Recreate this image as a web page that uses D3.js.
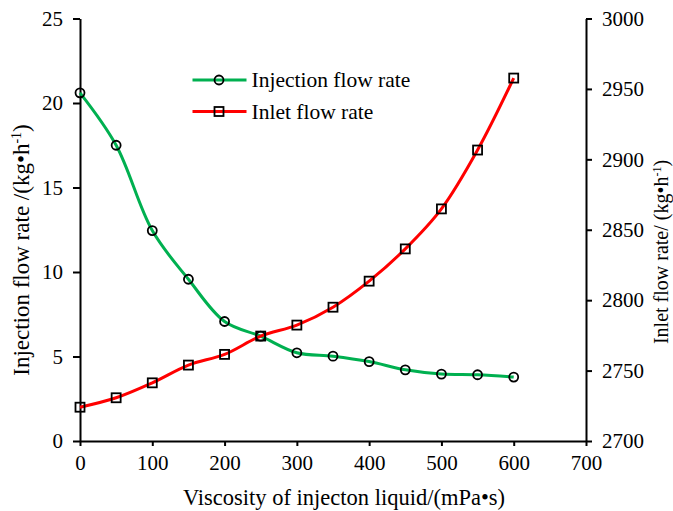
<!DOCTYPE html>
<html><head><meta charset="utf-8">
<script src="https://cdn.jsdelivr.net/npm/d3@7"></script>
<style>body{margin:0;background:#fff}text{font-family:"Liberation Serif","Times New Roman",serif;fill:#000}</style>
</head><body><svg id="c" width="673" height="511"></svg>
<script>
const viscosity = [0,50,100,150,200,250,300,350,400,450,500,550,600];
const injectionFlow = [20.6,17.5,12.45,9.57,7.07,6.2,5.22,5.02,4.7,4.21,3.96,3.92,3.78];
const inletFlow = [2724,2730.7,2741.3,2753.9,2761.5,2774.5,2782.3,2795,2813.5,2836.4,2864.8,2906.6,2957.7];
const xTicks = [0,100,200,300,400,500,600,700];
const yLeftTicks = [0,5,10,15,20,25];
const yRightTicks = [2700,2750,2800,2850,2900,2950,3000];

const svg = d3.select("#c");
const L=80, R=586, T=18.5, B=441;
const x = d3.scaleLinear().domain([0,700]).range([L,R]);
const yL = d3.scaleLinear().domain([0,25]).range([B,T]);
const yR = d3.scaleLinear().domain([2700,3000]).range([B,T]);

function styleAxis(g){
  g.selectAll("path,line").attr("stroke","#000").attr("stroke-width",2);
  g.selectAll("text").style("font-size","21px").style("font-family",'"Liberation Serif",serif');
}
svg.append("g").attr("transform",`translate(0,${B})`)
  .call(d3.axisBottom(x).tickValues(xTicks).tickSize(5).tickSizeOuter(0).tickPadding(9)).call(styleAxis);
svg.append("g").attr("transform",`translate(${L},0)`)
  .call(d3.axisLeft(yL).tickValues(yLeftTicks).tickSize(7).tickSizeOuter(0).tickPadding(10)).call(styleAxis);
svg.append("g").attr("transform",`translate(${R},0)`)
  .call(d3.axisRight(yR).tickValues(yRightTicks).tickFormat(d3.format("d")).tickSize(6).tickSizeOuter(0).tickPadding(10)).call(styleAxis);

const curve = d3.curveCatmullRom;
const lineL = d3.line().x((d,i)=>x(viscosity[i])).y(d=>yL(d)).curve(curve);
const lineR = d3.line().x((d,i)=>x(viscosity[i])).y(d=>yR(d)).curve(curve);
svg.append("path").datum(injectionFlow).attr("d",lineL).attr("fill","none").attr("stroke","#00B050").attr("stroke-width",3);
svg.append("path").datum(inletFlow).attr("d",lineR).attr("fill","none").attr("stroke","#FF0000").attr("stroke-width",3);
svg.selectAll(".mc").data(injectionFlow).enter().append("circle")
  .attr("cx",(d,i)=>x(viscosity[i])).attr("cy",d=>yL(d)).attr("r",4.5)
  .attr("fill","none").attr("stroke","#000").attr("stroke-width",1.8);
svg.selectAll(".ms").data(inletFlow).enter().append("rect")
  .attr("x",(d,i)=>x(viscosity[i])-4.5).attr("y",d=>yR(d)-4.5).attr("width",9).attr("height",9)
  .attr("fill","none").attr("stroke","#000").attr("stroke-width",1.8);

// legend
const leg = svg.append("g");
[[80,"#00B050","c","Injection flow rate"],[111.5,"#FF0000","s","Inlet flow rate"]].forEach(([yy,col,m,t])=>{
  leg.append("line").attr("x1",192.5).attr("x2",246.5).attr("y1",yy).attr("y2",yy).attr("stroke",col).attr("stroke-width",3);
  if(m==="c") leg.append("circle").attr("cx",219).attr("cy",yy).attr("r",4.5).attr("fill","none").attr("stroke","#000").attr("stroke-width",1.8);
  else leg.append("rect").attr("x",214.5).attr("y",yy-4.5).attr("width",9).attr("height",9).attr("fill","none").attr("stroke","#000").attr("stroke-width",1.8);
  leg.append("text").attr("x",251.5).attr("y",yy+7).style("font-size","21.5px").text(t);
});

// axis titles
svg.append("text").attr("x",344).attr("y",505).attr("text-anchor","middle").style("font-size","22.5px")
  .text("Viscosity of injecton liquid/(mPa•s)");
const lt = svg.append("text").attr("transform","translate(28.5,250) rotate(-90)").attr("text-anchor","middle").style("font-size","23px");
lt.append("tspan").text("Injection flow rate /(kg•h");
lt.append("tspan").attr("dy",-8).style("font-size","14px").text("-1");
lt.append("tspan").attr("dy",8).text(")");
const rt = svg.append("text").attr("transform","translate(668,252) rotate(-90)").attr("text-anchor","middle").style("font-size","20px");
rt.append("tspan").text("Inlet flow rate/ (kg•h");
rt.append("tspan").attr("dy",-7).style("font-size","12px").text("-1");
rt.append("tspan").attr("dy",7).text(")");
</script></body></html>
